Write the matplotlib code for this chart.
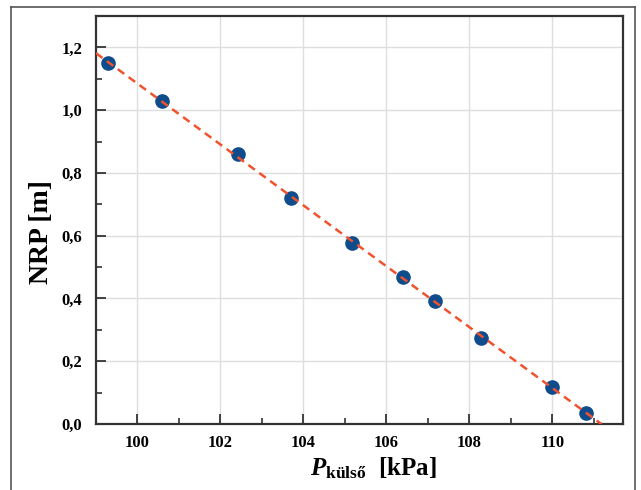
import numpy as np
import matplotlib
matplotlib.use("Agg")
import matplotlib.pyplot as plt
from matplotlib.lines import Line2D
from matplotlib.ticker import MultipleLocator, FuncFormatter

# Data
p_kulso = [99.30, 100.60, 102.41, 103.71, 105.18, 106.41, 107.18, 108.29, 110.00, 110.80]
nrp = [1.149, 1.028, 0.859, 0.719, 0.576, 0.468, 0.392, 0.274, 0.118, 0.035]
x_ticks = [100, 102, 104, 106, 108, 110]
y_ticks = [0.0, 0.2, 0.4, 0.6, 0.8, 1.0, 1.2]

plt.rcParams['font.family'] = ['Liberation Serif', 'DejaVu Serif']
plt.rcParams['mathtext.fontset'] = 'custom'
plt.rcParams['mathtext.rm'] = 'Liberation Serif:bold'
plt.rcParams['mathtext.bf'] = 'Liberation Serif:bold'
plt.rcParams['mathtext.it'] = 'Liberation Serif:bold:italic'

fig = plt.figure(figsize=(6.41, 4.90), dpi=100)
ax = fig.add_axes([96/641, 1-424/490, (623-96)/641, (424-16)/490])

# outer frame (open at bottom)
fc = '#555555'
x0, x1, yt = 11/641, 635/641, 1-7/490
for xs, ys in [([x0, x0], [-0.1, yt]), ([x0, x1], [yt, yt]), ([x1, x1], [yt, -0.1])]:
    fig.add_artist(Line2D(xs, ys, transform=fig.transFigure, color=fc, lw=1.2))

ax.set_xlim(99.0, 111.7)
ax.set_ylim(0.0, 1.3)

ax.grid(True, which='major', color='#dedede', lw=1.0)
ax.set_axisbelow(True)

ax.plot(p_kulso, nrp, 'o', color='#0f4c8c', ms=9.5, zorder=3, mec='#0f4c8c')

coef = np.polyfit(p_kulso, nrp, 1)
x_end = -coef[1] / coef[0]
xl = np.array([99.0, x_end])
ax.plot(xl, np.polyval(coef, xl), color='#f0522e', lw=1.8,
        linestyle=(0, (3.2, 2.2)), zorder=4)

ax.set_xticks(x_ticks)
ax.set_yticks(y_ticks)
ax.xaxis.set_minor_locator(MultipleLocator(1))
ax.yaxis.set_minor_locator(MultipleLocator(0.1))
fmt = FuncFormatter(lambda v, p: f"{v:.1f}".replace('.', ','))
ax.yaxis.set_major_formatter(fmt)
ax.xaxis.set_major_formatter(FuncFormatter(lambda v, p: f"{v:.0f}"))

for s in ax.spines.values():
    s.set_color('#333333')
    s.set_linewidth(1.6)
ax.tick_params(which='major', direction='in', length=7, width=1.3, color='#333333',
               labelsize=12, top=False, right=False)
ax.tick_params(axis='y', which='major', pad=10)
ax.tick_params(axis='x', which='major', pad=8)
ax.tick_params(which='minor', direction='in', length=4, width=1.2, color='#333333',
               top=False, right=False)
for lab in ax.get_xticklabels() + ax.get_yticklabels():
    lab.set_fontweight('bold')

ax.set_ylabel('NRP [m]', fontsize=20, fontweight='bold')
ax.yaxis.set_label_coords((54-96)/527, (424-232)/408)
ax.set_xlabel(r'$\mathit{P}_{\mathrm{külső}}$  [kPa]', fontsize=18, fontweight='bold')
ax.xaxis.set_label_coords((373-96)/527, -(455-424)/408)

fig.savefig('out.png', dpi=100)
